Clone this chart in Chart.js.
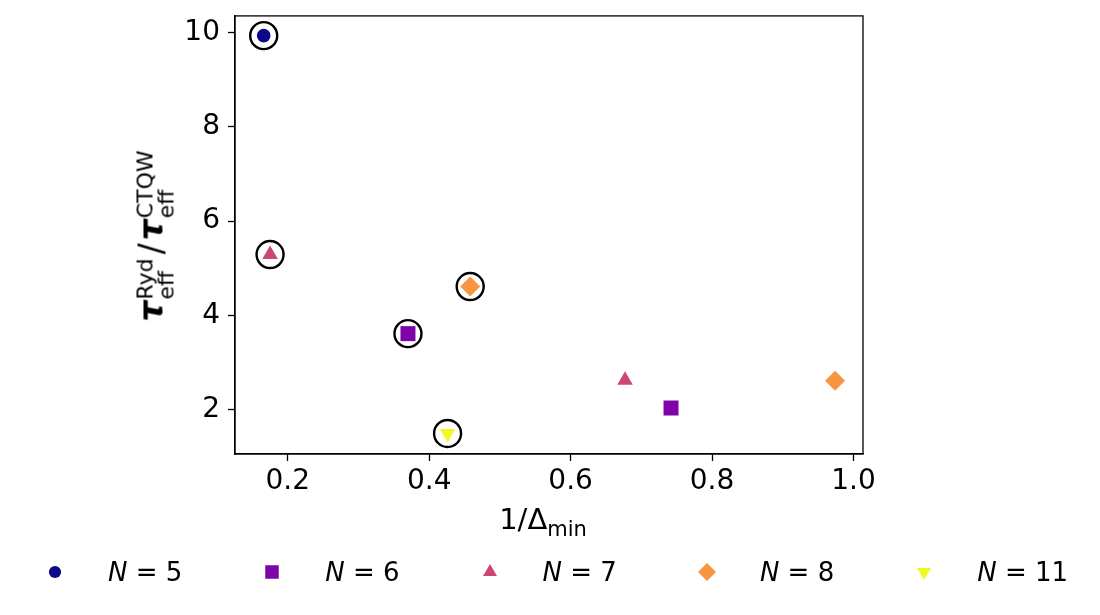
<!DOCTYPE html>
<html>
<head>
<meta charset="utf-8">
<script src="https://cdn.jsdelivr.net/npm/chart.js@4/dist/chart.umd.min.js"></script>
<style>
  body{margin:0;background:#fff;font-family:"DejaVu Sans",sans-serif;}
  #wrap{position:relative;width:1100px;height:615px;}
  #chart{position:absolute;left:0;top:0;}
  .ylab{position:absolute;left:154px;top:236px;transform:translate(-50%,-50%) rotate(-90deg);white-space:nowrap;font-size:33px;color:#000;}
  .ylab i{font-weight:bold;}
  .slash{margin:0 3px 0 4px;}
  .xlab{position:absolute;left:543px;top:521px;transform:translate(-50%,-50%);white-space:nowrap;font-size:29px;color:#000;}
  .stack{display:inline-block;vertical-align:-11px;font-size:22px;line-height:21px;margin-left:1px;}
  .stack span{display:block;}
  .xlab sub{font-size:21px;vertical-align:-7px;}
  #legend{position:absolute;left:45px;top:558px;display:flex;}
  .item{width:217.3px;display:flex;align-items:center;height:28px;}
  .item canvas{width:20px;height:20px;}
  .item .t{margin-left:43px;font-size:26px;white-space:nowrap;}
</style>
</head>
<body>
<div id="wrap">
  <canvas id="chart" width="1100" height="615"></canvas>
  <div class="ylab"><i>τ</i><span class="stack"><span>Ryd</span><span>eff</span></span><span class="slash">/</span><i>τ</i><span class="stack"><span>CTQW</span><span>eff</span></span></div>
  <div class="xlab">1/Δ<sub>min</sub></div>
  <div id="legend"></div>
</div>
<script>
// data: x = 1/Δmin, y = τ_eff^Ryd / τ_eff^CTQW
const seriesNames = ["5", "6", "7", "8", "11"];
const n5X = [0.166], n5Y = [9.94];
const n6X = [0.370, 0.742], n6Y = [3.61, 2.03];
const n7X = [0.175, 0.677], n7Y = [5.29, 2.62];
const n8X = [0.458, 0.974], n8Y = [4.61, 2.61];
const n11X = [0.426], n11Y = [1.49];
const xTicks = [0.2, 0.4, 0.6, 0.8, 1.0];
const yTicks = [2, 4, 6, 8, 10];

const colors = ["#0d0887", "#7e03a8", "#cc4778", "#f89540", "#f0f921"];
const styles = ["circle", "rect", "triangle", "rectRot", "triangle"];
const radii = [6.8, 10.6, 9, 10, 9];
const rots = [0, 0, 0, 0, 180];
const allX = [n5X, n6X, n7X, n8X, n11X];
const allY = [n5Y, n6Y, n7Y, n8Y, n11Y];

const FONT = "DejaVu Sans";

const datasets = allX.map((xs, i) => ({
  label: "N = " + seriesNames[i],
  data: xs.map((x, j) => ({x: x, y: allY[i][j]})),
  backgroundColor: colors[i],
  borderColor: colors[i],
  pointBorderWidth: 0,
  pointStyle: styles[i],
  pointRadius: radii[i],
  pointHoverRadius: radii[i],
  pointRotation: rots[i]
}));

// open black rings around the first point of each N
datasets.push({
  label: "ring",
  data: allX.map((xs, i) => ({x: xs[0], y: allY[i][0]})),
  backgroundColor: "rgba(0,0,0,0)",
  borderColor: "#000",
  pointBorderWidth: 2.4,
  pointStyle: "circle",
  pointRadius: 13.5,
  pointHoverRadius: 13.5
});

const frame = {
  id: "frame",
  afterDatasetsDraw(c){
    const a = c.chartArea, ctx = c.ctx;
    ctx.save();
    ctx.strokeStyle = "#000"; ctx.lineWidth = 1.3;
    ctx.strokeRect(a.left, a.top, a.right - a.left, a.bottom - a.top);
    ctx.restore();
  }
};

new Chart(document.getElementById("chart"), {
  type: "scatter",
  data: {datasets: datasets},
  options: {
    responsive: false,
    animation: false,
    layout: {padding: {left: 0, top: 15, right: 237, bottom: 0}},
    plugins: {legend: {display: false}, tooltip: {enabled: false}},
    scales: {
      x: {
        type: "linear", min: 0.1254, max: 1.0135,
        afterBuildTicks: s => { s.ticks = xTicks.map(v => ({value: v})); },
        afterFit: s => { s.height = 161; s.paddingLeft = 0; s.paddingRight = 0; },
        grid: {drawOnChartArea: false, tickLength: 7, tickWidth: 1.3, tickColor: "#000"},
        border: {color: "#000", width: 1.3},
        ticks: {color: "#000", font: {family: FONT, size: 28}, padding: 4, maxRotation: 0,
                callback: v => v.toFixed(1)}
      },
      y: {
        type: "linear", min: 1.053, max: 10.36,
        afterBuildTicks: s => { s.ticks = yTicks.map(v => ({value: v})); },
        afterFit: s => { s.width = 235; s.paddingTop = 0; s.paddingBottom = 0; },
        grid: {drawOnChartArea: false, tickLength: 7, tickWidth: 1.3, tickColor: "#000"},
        border: {color: "#000", width: 1.3},
        ticks: {color: "#000", font: {family: FONT, size: 28}, padding: 8,
                callback: v => String(v)}
      }
    }
  },
  plugins: [frame]
});

// legend row
const leg = document.getElementById("legend");
seriesNames.forEach((n, i) => {
  const it = document.createElement("div");
  it.className = "item";
  const cv = document.createElement("canvas");
  cv.width = 20; cv.height = 20;
  const cx = cv.getContext("2d");
  cx.fillStyle = colors[i]; cx.strokeStyle = colors[i]; cx.lineWidth = 0;
  Chart.helpers.drawPoint(cx, {pointStyle: styles[i], radius: radii[i] * 0.9, rotation: rots[i], borderWidth: 0}, 10, 10);
  const t = document.createElement("span");
  t.className = "t";
  t.innerHTML = "<i>N</i> = " + n;
  it.appendChild(cv); it.appendChild(t);
  leg.appendChild(it);
});
</script>
</body>
</html>
